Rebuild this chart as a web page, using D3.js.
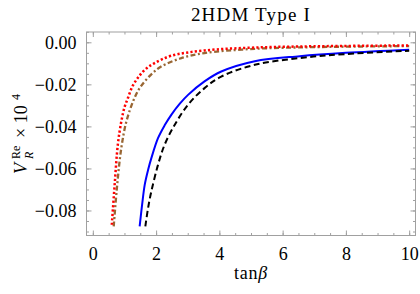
<!DOCTYPE html>
<html>
<head>
<meta charset="utf-8">
<script src="https://cdn.jsdelivr.net/npm/d3@7"></script>
<style>
  body { margin: 0; background: #fff; }
  svg { display: block; }
</style>
</head>
<body>
<div id="chart"></div>
<script>
// values (tan beta, V_R^Re x 10^4)
const blueX  = [1.48, 1.56, 1.64, 1.75, 1.85, 2.06, 2.27, 2.48, 2.75, 3.01, 3.53, 4.06, 5.12, 6.54, 8.0, 10.0];
const blueY  = [-0.0876, -0.0770, -0.0678, -0.0605, -0.0551, -0.0456, -0.0395, -0.0345, -0.0292, -0.0250, -0.0186, -0.0139, -0.0090, -0.0066, -0.0050, -0.0035];
const blackX = [1.66, 1.75, 1.85, 2.06, 2.27, 2.59, 3.01, 3.53, 4.06, 5.12, 6.54, 8.0, 10.0];
const blackY = [-0.0876, -0.0785, -0.0709, -0.0583, -0.0487, -0.0392, -0.0297, -0.0218, -0.0163, -0.0107, -0.0075, -0.0056, -0.0040];
const redX   = [0.60, 0.69, 0.79, 0.90, 1.00, 1.11, 1.25, 1.42, 1.65, 1.95, 2.48, 3.53, 5.12, 7.0, 10.0];
const redY   = [-0.0868, -0.0678, -0.0487, -0.0377, -0.0310, -0.0265, -0.0210, -0.0170, -0.0130, -0.0099, -0.0064, -0.0039, -0.0025, -0.0019, -0.0015];
const brownX = [0.66, 0.77, 0.90, 1.06, 1.27, 1.45, 1.64, 1.90, 2.16, 2.80, 3.53, 5.12, 7.0, 10.0];
const brownY = [-0.0876, -0.0678, -0.0503, -0.0377, -0.0282, -0.0225, -0.0186, -0.0145, -0.0115, -0.0075, -0.0051, -0.0031, -0.0023, -0.0018];

const xTicks = [0, 2, 4, 6, 8, 10];
const yTicks = [0, -0.02, -0.04, -0.06, -0.08];
const titleText = '2HDM Type I';

const W = 420, H = 294;
const margin = {top: 32, left: 86.5, right: 4.5, bottom: 58.5};
const width = W - margin.left - margin.right,
  height = H - margin.top - margin.bottom;
const serif = '"Liberation Serif", "Times New Roman", serif';

const svg = d3.select('#chart').append('svg')
    .attr('width', W)
    .attr('height', H);

const g = svg.append('g')
    .attr('transform', 'translate(' + margin.left + ',' + margin.top + ')');

const x = d3.scaleLinear().domain([-0.2, 10.2]).range([0, width]);
const y = d3.scaleLinear().domain([-0.0919, 0.0049]).range([height, 0]);

const frameColor = '#a0a0a0';

// minor ticks every 0.5 / 0.005
const xMinor = d3.range(0, 10.01, 0.5);
const yMinor = d3.range(-0.09, 0.0051, 0.005);

function styleAxis(sel, showLabels) {
  sel.attr('font-family', serif).attr('font-size', 18);
  sel.select('.domain').remove();
  sel.selectAll('.tick line').attr('stroke', frameColor);
  if (!showLabels) sel.selectAll('.tick text').remove();
  sel.selectAll('.tick text')
      .attr('fill', '#000')
      .style('font-family', serif)
      .style('font-size', '18px');
}

// minor tick axes (no labels)
g.append('g').attr('transform', 'translate(0,' + height + ')')
  .call(d3.axisBottom(x).tickValues(xMinor).tickSize(-2.5).tickFormat(''))
  .call(s => styleAxis(s, false));
g.append('g')
  .call(d3.axisTop(x).tickValues(xMinor).tickSize(-2.5).tickFormat(''))
  .call(s => styleAxis(s, false));
g.append('g')
  .call(d3.axisLeft(y).tickValues(yMinor).tickSize(-2.5).tickFormat(''))
  .call(s => styleAxis(s, false));
g.append('g').attr('transform', 'translate(' + width + ',0)')
  .call(d3.axisRight(y).tickValues(yMinor).tickSize(-2.5).tickFormat(''))
  .call(s => styleAxis(s, false));

// major axes
g.append('g').attr('transform', 'translate(0,' + height + ')')
  .call(d3.axisBottom(x).tickValues(xTicks).tickSize(-5).tickPadding(12).tickFormat(d3.format('d')))
  .call(s => styleAxis(s, true));
g.append('g')
  .call(d3.axisTop(x).tickValues(xTicks).tickSize(-5).tickFormat(''))
  .call(s => styleAxis(s, false));
g.append('g')
  .call(d3.axisLeft(y).tickValues(yTicks).tickSize(-5).tickPadding(10)
    .tickFormat(d => d3.format('.2f')(d).replace('-', '\u2212')))
  .call(s => styleAxis(s, true));
g.append('g').attr('transform', 'translate(' + width + ',0)')
  .call(d3.axisRight(y).tickValues(yTicks).tickSize(-5).tickFormat(''))
  .call(s => styleAxis(s, false));

// frame
g.append('rect')
    .attr('width', width)
    .attr('height', height)
    .attr('fill', 'none')
    .attr('stroke', frameColor)
    .attr('stroke-width', 1);

// curves
const line = d3.line()
    .x(d => x(d[0]))
    .y(d => y(d[1]))
    .curve(d3.curveCatmullRom.alpha(0.5));

const series = [
  {xs: blueX, ys: blueY, color: '#0000ff', dash: null, w: 2},
  {xs: blackX, ys: blackY, color: '#000000', dash: '6,3.5', w: 2},
  {xs: brownX, ys: brownY, color: '#996633', dash: '5,2.5,2,2.5', w: 2.3},
  {xs: redX, ys: redY, color: '#ff0000', dash: '2.2,2.2', w: 2.5}
];

series.forEach(s => {
  const pts = s.xs.map((v, i) => [v, s.ys[i]]);
  g.append('path')
      .datum(pts)
      .attr('fill', 'none')
      .attr('stroke', s.color)
      .attr('stroke-width', s.w)
      .attr('stroke-dasharray', s.dash)
      .attr('d', line);
});

// title
svg.append('text')
    .attr('x', 251)
    .attr('y', 21)
    .attr('text-anchor', 'middle')
    .style('font-family', serif)
    .style('font-size', '19px')
    .style('letter-spacing', '1.2px')
    .text(titleText);

// x label
const xl = svg.append('text')
    .attr('x', 251)
    .attr('y', 279)
    .attr('text-anchor', 'middle')
    .style('font-family', serif)
    .style('font-size', '18px')
    .style('letter-spacing', '0.8px');
xl.append('tspan').text('tan');
xl.append('tspan').style('font-style', 'italic').text('\u03B2');

// y label, rotated, built piece by piece
const yl = svg.append('g')
    .attr('transform', 'translate(27,174) rotate(-90)')
    .style('font-family', serif);
yl.append('text').attr('x', 0).attr('y', 0)
    .style('font-size', '18px').style('font-style', 'italic').text('V');
yl.append('text').attr('x', 15).attr('y', 6)
    .style('font-size', '12px').style('font-style', 'italic').text('R');
yl.append('text').attr('x', 15).attr('y', -7)
    .style('font-size', '12px').text('Re');
yl.append('text').attr('x', 36).attr('y', 0)
    .style('font-size', '18px').text('\u00D7 10');
yl.append('text').attr('x', 74).attr('y', -7)
    .style('font-size', '12px').text('4');
</script>
</body>
</html>
